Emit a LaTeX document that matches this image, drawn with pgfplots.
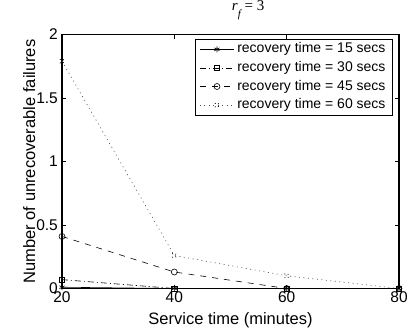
\documentclass[border=0pt]{standalone}
\usepackage{fontspec}
\setmainfont{Liberation Sans}
\newfontfamily\tms{Liberation Serif}
\usepackage{pgfplots}
\pgfplotsset{compat=1.18}

\begin{document}
\begin{tikzpicture}
\begin{axis}[
  scale only axis, width=337pt, height=254pt,
  xmin=20, xmax=80, ymin=0, ymax=2,
  xtick={20,40,60,80}, ytick={0,0.5,1,1.5,2},
  yticklabels={0,0.5,1,1.5,2},
  tick align=inside, major tick length=4pt,
  axis line style={line width=1.1pt},
  tick style={line width=0.6pt, black},
  /pgf/number format/assume math mode=true,
  ticklabel style={font=\fontsize{15.5}{18}\selectfont},
  xticklabel style={inner sep=3pt},
  yticklabel style={inner sep=4pt},
  clip=false,
  title={{\tms\fontsize{15}{18}\selectfont\textit{r}\raisebox{-7pt}{\fontsize{11}{13}\selectfont\textit{f}}\,= 3}},
  title style={at={(axis description cs:0.5036,1.070)}, anchor=base west, inner sep=0pt},
  xlabel={Service time (minutes)},
  xlabel style={font=\fontsize{16.5}{19}\selectfont, at={(axis description cs:0.5,-0.1398)}, anchor=base, inner sep=0pt},
  ylabel={Number of unrecoverable failures},
  ylabel style={font=\fontsize{16.5}{19}\selectfont, at={(axis description cs:-0.0801,0.5)}, anchor=base, inner sep=0pt},
  legend cell align=left,
  legend style={at={(axis description cs:1,1)}, anchor=north east, xshift=-6pt, yshift=-4pt,
    draw=black, line width=1pt, fill=white,
    font=\fontsize{14}{16.8}\selectfont,
    inner xsep=4pt, inner ysep=1pt, row sep=0pt,
    nodes={inner xsep=3pt, inner ysep=2.3pt, text height=10.5pt, text depth=3.5pt}},
  legend image code/.code={%
    \draw[mark repeat=2, mark phase=2, #1] plot coordinates {(0pt,0pt) (17pt,0pt) (34pt,0pt)};},
  every axis plot/.append style={line width=0.6pt, black, mark options={solid, line width=0.6pt}},
]
% recovery time = 15 s
\addplot[solid, mark=asterisk, mark size=3pt] coordinates {(20,0.01) (40,0) (60,0) (80,0)};
% recovery time = 30 s
\addplot[dash pattern=on 6pt off 3pt on 1pt off 3pt, mark=square, mark size=2.6pt] coordinates {(20,0.07) (40,0) (60,0) (80,0)};
% recovery time = 45 s
\addplot[dash pattern=on 6pt off 6pt, mark=o, mark size=3pt] coordinates {(20,0.41) (40,0.13) (60,0) (80,0)};
% recovery time = 60 s
\addplot[black!70, dash pattern=on 1pt off 3.5pt, mark=x, mark size=3pt, mark options={black}] coordinates {(20,1.79) (40,0.26) (60,0.10) (80,0)};
\legend{recovery time = 15 secs, recovery time = 30 secs, recovery time = 45 secs, recovery time = 60 secs}
\end{axis}
\pgfresetboundingbox
\useasboundingbox ([xshift=-62pt,yshift=-43.5pt]current axis.south west) rectangle ([xshift=20pt,yshift=34.5pt]current axis.north east);
\end{tikzpicture}
\end{document}
